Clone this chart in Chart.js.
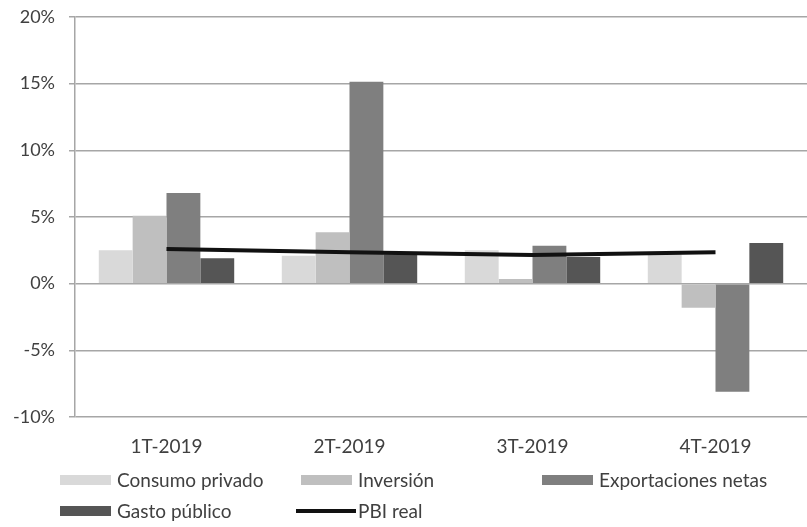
<!DOCTYPE html>
<html>
<head>
<meta charset="utf-8">
<script src="https://cdn.jsdelivr.net/npm/chart.js@4"></script>
<style>
  body { margin: 0; background: #fff; }
  #wrap { width: 807px; height: 527px; }
</style>
</head>
<body>
<div id="wrap"><canvas id="graph" width="807" height="527"></canvas></div>
<script>
// Contribución al crecimiento del PBI por trimestre (%)
const quarters = ['1T-2019', '2T-2019', '3T-2019', '4T-2019'];
const consumoPrivado = [2.5, 2.1, 2.5, 2.2];
const inversion = [5.1, 3.85, 0.35, -1.8];
const exportacionesNetas = [6.8, 15.15, 2.85, -8.1];
const gastoPublico = [1.9, 2.2, 2.0, 3.05];
const pbiReal = [2.6, 2.35, 2.15, 2.35];
const yTickValues = [-10, -5, 0, 5, 10, 15, 20];

const FONT = 'Lato, "Open Sans", sans-serif';
const TEXT = '#404040';
const GRID = '#a6a6a6';

// legend laid out in fixed columns, two rows
const legendCols = [60, 301, 542];
const legendRows = [480, 511];

const columnLegend = {
    id: 'columnLegend',
    afterDraw: (chart) => {
        const ctx = chart.ctx;
        ctx.save();
        ctx.font = '19px ' + FONT;
        ctx.textBaseline = 'middle';
        ctx.fillStyle = TEXT;
        chart.data.datasets.forEach((ds, i) => {
            const x = legendCols[i % 3];
            const y = legendRows[Math.floor(i / 3)];
            if (ds.type === 'line') {
                ctx.strokeStyle = ds.borderColor;
                ctx.lineWidth = 4;
                ctx.beginPath();
                ctx.moveTo(x - 5, y);
                ctx.lineTo(x + 55, y);
                ctx.stroke();
            } else {
                ctx.fillStyle = ds.backgroundColor;
                ctx.fillRect(x, y - 5, 51, 10);
            }
            ctx.fillStyle = TEXT;
            ctx.fillText(ds.label, x + 57, y + 1);
        });
        ctx.restore();
    }
};

const chartdata = {
    labels: quarters,
    datasets: [
        { label: 'Consumo privado', data: consumoPrivado, backgroundColor: '#d9d9d9', order: 1 },
        { label: 'Inversión', data: inversion, backgroundColor: '#bfbfbf', order: 1 },
        { label: 'Exportaciones netas', data: exportacionesNetas, backgroundColor: '#7f7f7f', order: 1 },
        { label: 'Gasto público', data: gastoPublico, backgroundColor: '#555555', order: 1 },
        { type: 'line', label: 'PBI real', data: pbiReal, borderColor: '#111111',
          borderWidth: 4, pointRadius: 0, fill: false, order: 0 }
    ]
};

new Chart(document.getElementById('graph'), {
    type: 'bar',
    data: chartdata,
    plugins: [columnLegend],
    options: {
        responsive: false,
        animation: false,
        layout: { padding: { top: 17, right: 0, bottom: 70, left: 0 } },
        datasets: { bar: { categoryPercentage: 0.74, barPercentage: 1.0 } },
        plugins: { legend: { display: false }, tooltip: { enabled: false } },
        scales: {
            x: {
                grid: { display: false, drawTicks: false },
                border: { display: false },
                ticks: { color: TEXT, font: { family: FONT, size: 19 }, padding: 18, maxRotation: 0 },
                afterFit: (scale) => { scale.height = 40; }
            },
            y: {
                min: -10,
                max: 20,
                afterBuildTicks: (scale) => { scale.ticks = yTickValues.map(v => ({ value: v })); },
                grid: { color: GRID, lineWidth: 1.5, tickLength: 6 },
                border: { color: GRID, width: 1.5 },
                ticks: { color: TEXT, font: { family: FONT, size: 18 }, padding: 14,
                         callback: (v) => v + '%' },
                afterFit: (scale) => {
                    scale.width = 75;
                    scale.paddingTop = 0;
                    scale.paddingBottom = 0;
                }
            }
        }
    }
});
</script>
</body>
</html>
